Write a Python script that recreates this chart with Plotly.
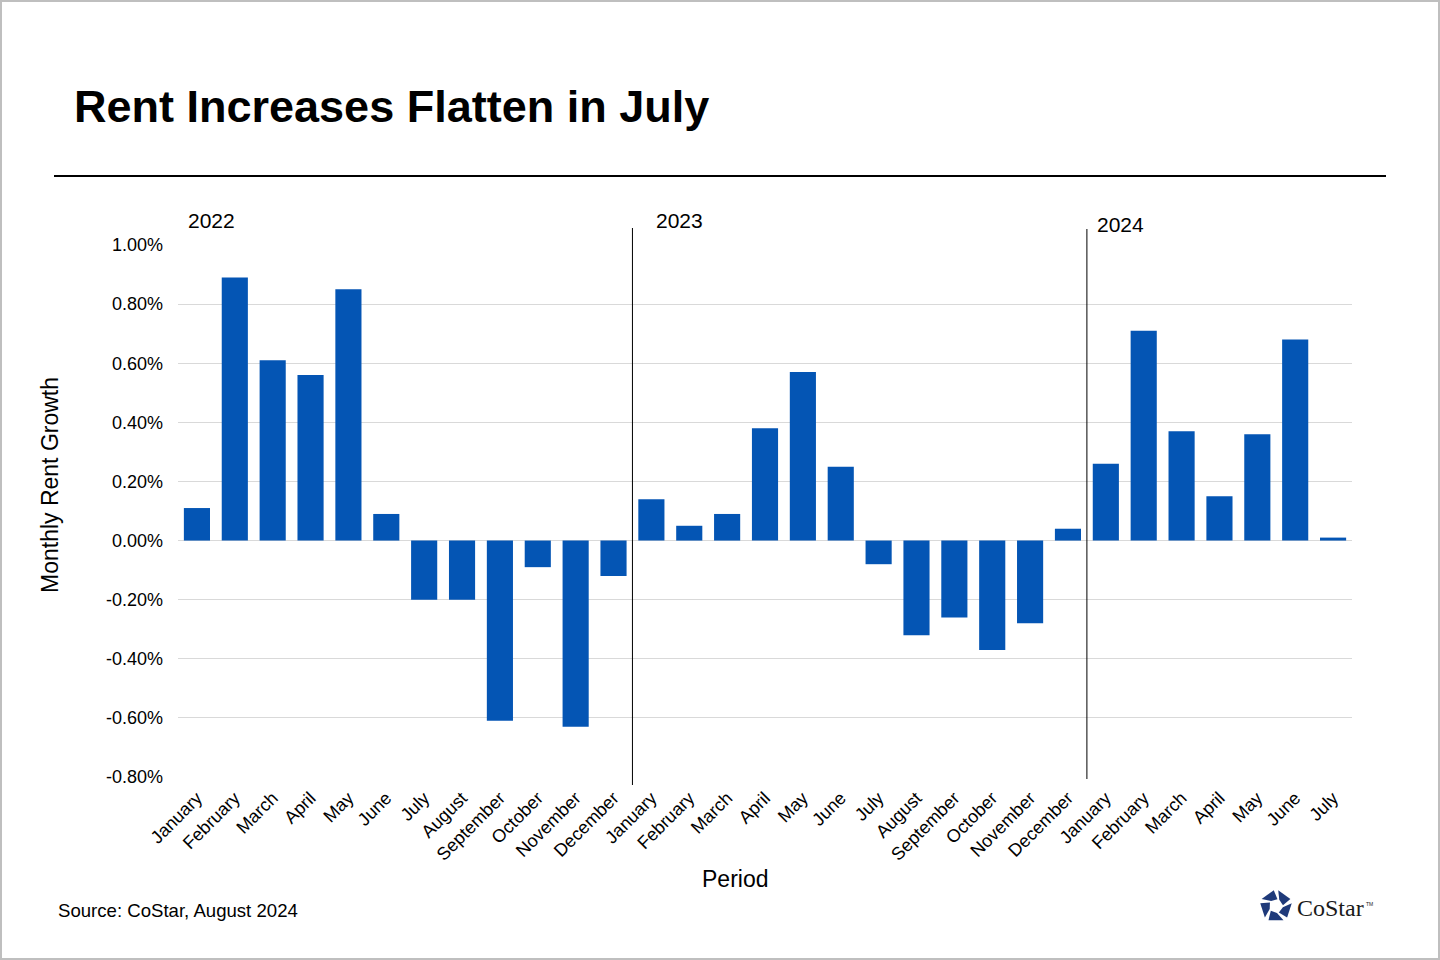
import math
import plotly.graph_objects as go

months = ["January", "February", "March", "April", "May", "June", "July",
          "August", "September", "October", "November", "December"]
periods = months + months + months[:7]
years = ["2022", "2023", "2024"]

growth_2022 = [0.11, 0.89, 0.61, 0.56, 0.85, 0.09, -0.20, -0.20, -0.61, -0.09, -0.63, -0.12]
growth_2023 = [0.14, 0.05, 0.09, 0.38, 0.57, 0.25, -0.08, -0.32, -0.26, -0.37, -0.28, 0.04]
growth_2024 = [0.26, 0.71, 0.37, 0.15, 0.36, 0.68, 0.01]
growth = growth_2022 + growth_2023 + growth_2024

y_ticks = [-0.8, -0.6, -0.4, -0.2, 0.0, 0.2, 0.4, 0.6, 0.8, 1.0]
y_ticktext = ["-0.80%", "-0.60%", "-0.40%", "-0.20%", "0.00%",
              "0.20%", "0.40%", "0.60%", "0.80%", "1.00%"]

# plot area in pixels
L, R, T, B = 178, 1352, 245, 777
W, H = 1440, 960
PW, PH = R - L, B - T


def px(x):
    return (x - L) / PW


def py(y):
    return (B - y) / PH


xs = list(range(len(periods)))
fig = go.Figure()
fig.add_trace(go.Bar(
    x=xs, y=growth,
    marker=dict(color="#0455B4", line=dict(width=0)),
    width=0.69,
    hovertemplate="%{y:.2f}%<extra></extra>",
))

font = "Liberation Sans, Arial, sans-serif"
fig.update_layout(
    width=W, height=H,
    margin=dict(l=L, r=W - R, t=T, b=H - B),
    paper_bgcolor="white", plot_bgcolor="white",
    showlegend=False,
    font=dict(family=font, size=18, color="#000000"),
    xaxis=dict(
        tickmode="array", tickvals=xs, ticktext=periods,
        tickangle=-45, range=[-0.5, len(periods) - 0.5],
        showgrid=False, zeroline=False, showline=False, ticks="",
        ticklabelstandoff=6,
        tickfont=dict(size=18, color="#000000"),
    ),
    yaxis=dict(
        range=[-0.8, 1.0],
        tickmode="array", tickvals=y_ticks, ticktext=y_ticktext,
        showgrid=True, gridcolor="#D9D9D9", gridwidth=1,
        zeroline=True, zerolinecolor="#D9D9D9", zerolinewidth=1,
        showline=False, ticks="", ticklabelstandoff=14,
        tickfont=dict(size=18, color="#000000"),
    ),
)

shapes = []
# outer frame
shapes.append(dict(type="rect", xref="paper", yref="paper",
                   x0=px(1), x1=px(W - 1), y0=py(H - 1), y1=py(1),
                   line=dict(color="#BFBFBF", width=2), fillcolor="rgba(0,0,0,0)", layer="below"))
# rule under title
shapes.append(dict(type="line", xref="paper", yref="paper",
                   x0=px(54), x1=px(1386), y0=py(176), y1=py(176),
                   line=dict(color="#000000", width=2)))
# year dividers
shapes.append(dict(type="line", xref="x", yref="paper", x0=11.5, x1=11.5,
                   y0=py(785), y1=py(228), line=dict(color="#000000", width=1)))
shapes.append(dict(type="line", xref="x", yref="paper", x0=23.5, x1=23.5,
                   y0=py(779), y1=py(229), line=dict(color="#000000", width=1)))

# CoStar logo mark (5 pieces in a pinwheel)
cx, cy = 1276, 906
Ro, Ri = 16, 7
for k in range(5):
    a0 = math.radians(-90 + 72 * k + 8)
    a1 = math.radians(-90 + 72 * k + 64)
    pts = [
        (cx + Ro * math.cos(a0), cy + Ro * math.sin(a0)),
        (cx + Ro * math.cos(a1), cy + Ro * math.sin(a1)),
        (cx + Ri * math.cos(a1 + 0.35), cy + Ri * math.sin(a1 + 0.35)),
        (cx + Ri * math.cos(a0 + 0.35), cy + Ri * math.sin(a0 + 0.35)),
    ]
    path = "M " + " L ".join(f"{px(x):.5f},{py(y):.5f}" for x, y in pts) + " Z"
    shapes.append(dict(type="path", xref="paper", yref="paper", path=path,
                       fillcolor="#1F3A7A", line=dict(width=0)))
fig.update_layout(shapes=shapes)

ann = []
ann.append(dict(text="<b>Rent Increases Flatten in July</b>", xref="paper", yref="paper",
                x=px(72), y=py(106), xanchor="left", yanchor="middle", showarrow=False,
                font=dict(size=45, color="#000000", family=font)))
year_pos = [(186, 221), (654, 221), (1095, 224)]
for yr, (xp, yp) in zip(years, year_pos):
    ann.append(dict(text=yr, xref="paper", yref="paper", x=px(xp), y=py(yp),
                    xanchor="left", yanchor="middle", showarrow=False,
                    font=dict(size=21, color="#000000")))
ann.append(dict(text="Monthly Rent Growth", xref="paper", yref="paper",
                x=px(50), y=py(485), xanchor="center", yanchor="middle",
                textangle=-90, showarrow=False, font=dict(size=23, color="#000000")))
ann.append(dict(text="Period", xref="paper", yref="paper",
                x=px(735), y=py(879), xanchor="center", yanchor="middle",
                showarrow=False, font=dict(size=23, color="#000000")))
ann.append(dict(text="Source: CoStar, August 2024", xref="paper", yref="paper",
                x=px(56), y=py(910), xanchor="left", yanchor="middle",
                showarrow=False, font=dict(size=18.6, color="#000000")))
ann.append(dict(text="CoStar", xref="paper", yref="paper",
                x=px(1295), y=py(908), xanchor="left", yanchor="middle",
                showarrow=False, font=dict(size=24, color="#1A1A1A",
                                           family="Liberation Serif, Times New Roman, serif")))
ann.append(dict(text="TM", xref="paper", yref="paper",
                x=px(1364), y=py(904), xanchor="left", yanchor="middle",
                showarrow=False, font=dict(size=5, color="#1A1A1A")))
fig.update_layout(annotations=ann)

fig.write_html(
    "out.html",
    config={"displayModeBar": False},
    post_script="document.body.style.margin='0';document.body.style.overflow='hidden';",
)
